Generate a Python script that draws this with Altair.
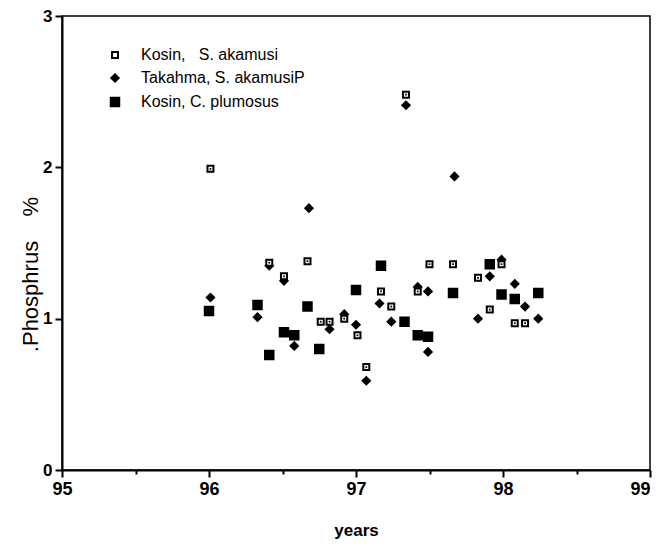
import altair as alt
import pandas as pd

# Kosin, S. akamusi (open squares)
years_open = [96.01, 96.41, 96.51, 96.67, 96.76, 96.82, 96.92, 97.01, 97.07, 97.17,
              97.24, 97.34, 97.42, 97.50, 97.66, 97.83, 97.91, 97.99, 98.08, 98.15]
p_open = [1.99, 1.37, 1.28, 1.38, 0.98, 0.98, 1.00, 0.89, 0.68, 1.18,
          1.08, 2.48, 1.18, 1.36, 1.36, 1.27, 1.06, 1.36, 0.97, 0.97]

# Takahma, S. akamusiP (diamonds)
years_diam = [96.01, 96.33, 96.41, 96.51, 96.58, 96.68, 96.82, 96.92, 97.00, 97.07,
              97.16, 97.24, 97.34, 97.42, 97.49, 97.49, 97.67, 97.83, 97.91, 97.99,
              98.08, 98.15, 98.24]
p_diam = [1.14, 1.01, 1.35, 1.25, 0.82, 1.73, 0.93, 1.03, 0.96, 0.59,
          1.10, 0.98, 2.41, 1.21, 1.18, 0.78, 1.94, 1.00, 1.28, 1.39,
          1.23, 1.08, 1.00]

# Kosin, C. plumosus (filled squares)
years_fill = [96.00, 96.33, 96.41, 96.51, 96.58, 96.67, 96.75, 97.00, 97.17, 97.33,
              97.42, 97.49, 97.66, 97.91, 97.99, 98.08, 98.24]
p_fill = [1.05, 1.09, 0.76, 0.91, 0.89, 1.08, 0.80, 1.19, 1.35, 0.98,
          0.89, 0.88, 1.17, 1.36, 1.16, 1.13, 1.17]

s_open = "\u00a0Kosin,\u00a0\u00a0\u00a0S. akamusi"
s_diam = "Takahma, S. akamusiP"
s_fill = "Kosin, C. plumosus"
series = [s_open, s_diam, s_fill]

x_ticks = [95, 95.5, 96, 96.5, 97, 97.5, 98, 98.5, 99]
y_ticks = [0, 1, 2, 3]

df = pd.concat([
    pd.DataFrame({"year": years_fill, "p": p_fill, "series": s_fill}),
    pd.DataFrame({"year": years_diam, "p": p_diam, "series": s_diam}),
    pd.DataFrame({"year": years_open, "p": p_open, "series": s_open}),
], ignore_index=True)
df_open = pd.DataFrame({"year": years_open, "p": p_open})

FONT = "Liberation Sans"

x_enc = alt.X(
    "year:Q",
    scale=alt.Scale(domain=[95, 99], nice=False, zero=False),
    axis=alt.Axis(
        values=x_ticks,
        labelExpr="datum.value % 1 === 0 ? format(datum.value, 'd') : ''",
        tickSize={"condition": {"test": "datum.value % 1 !== 0", "value": 4}, "value": 7},
        labelAlign={"condition": {"test": "datum.value === 99", "value": "right"}, "value": "center"},
        tickColor="black", tickWidth=2, domainColor="black", domainWidth=2,
        labelFont=FONT, labelFontSize=18, labelFontWeight="bold", labelColor="black",
        labelPadding=3, labelFlush=False,
        title="years", titleFont=FONT, titleFontSize=17, titleFontWeight="bold",
        titleColor="black", titlePadding=24, grid=False,
    ),
)
y_enc = alt.Y(
    "p:Q",
    scale=alt.Scale(domain=[0, 3], nice=False, zero=True),
    axis=alt.Axis(
        values=y_ticks, format="d",
        tickSize=7, tickColor="black", tickWidth=2, domainColor="black", domainWidth=2,
        labelFont=FONT, labelFontSize=17, labelFontWeight="bold", labelColor="black",
        labelPadding=3, labelFlush=False,
        title=".Phosphrus\u00a0\u00a0\u00a0\u00a0%", titleFont=FONT, titleFontSize=22,
        titleFontWeight="normal", titleColor="black",
        titleX=-32, titleY=258, titleBaseline="middle", titleAngle=270, grid=False,
    ),
)

leg = alt.Legend(title=None)

points = alt.Chart(df).mark_point(strokeWidth=2, opacity=1).encode(
    x=x_enc,
    y=y_enc,
    shape=alt.Shape("series:N", scale=alt.Scale(domain=series, range=["square", "diamond", "square"]), legend=leg),
    fill=alt.Fill("series:N", scale=alt.Scale(domain=series, range=["white", "black", "black"]), legend=leg),
    stroke=alt.Stroke("series:N", scale=alt.Scale(domain=series, range=["black", "black", "black"]), legend=leg),
    size=alt.Size("series:N", scale=alt.Scale(domain=series, range=[36, 72, 72]), legend=leg),
)

dots = alt.Chart(df_open).mark_square(color="black", size=3, opacity=1).encode(
    x="year:Q",
    y="p:Q",
)

chart = alt.layer(points, dots).properties(
    width=588,
    height=454,
    autosize=alt.AutoSizeParams(type="none"),
    padding={"left": 54, "top": 8, "right": 4, "bottom": 72},
    background="white",
).configure_view(
    stroke="black", strokeWidth=1.5,
).configure_legend(
    orient="none", legendX=45, legendY=31,
    labelFont=FONT, labelFontSize=16, labelColor="black", labelOffset=18, labelLimit=400,
    symbolStrokeWidth=2, rowPadding=7,
)

chart.save("out.html", embed_options={"renderer": "svg", "actions": False})
